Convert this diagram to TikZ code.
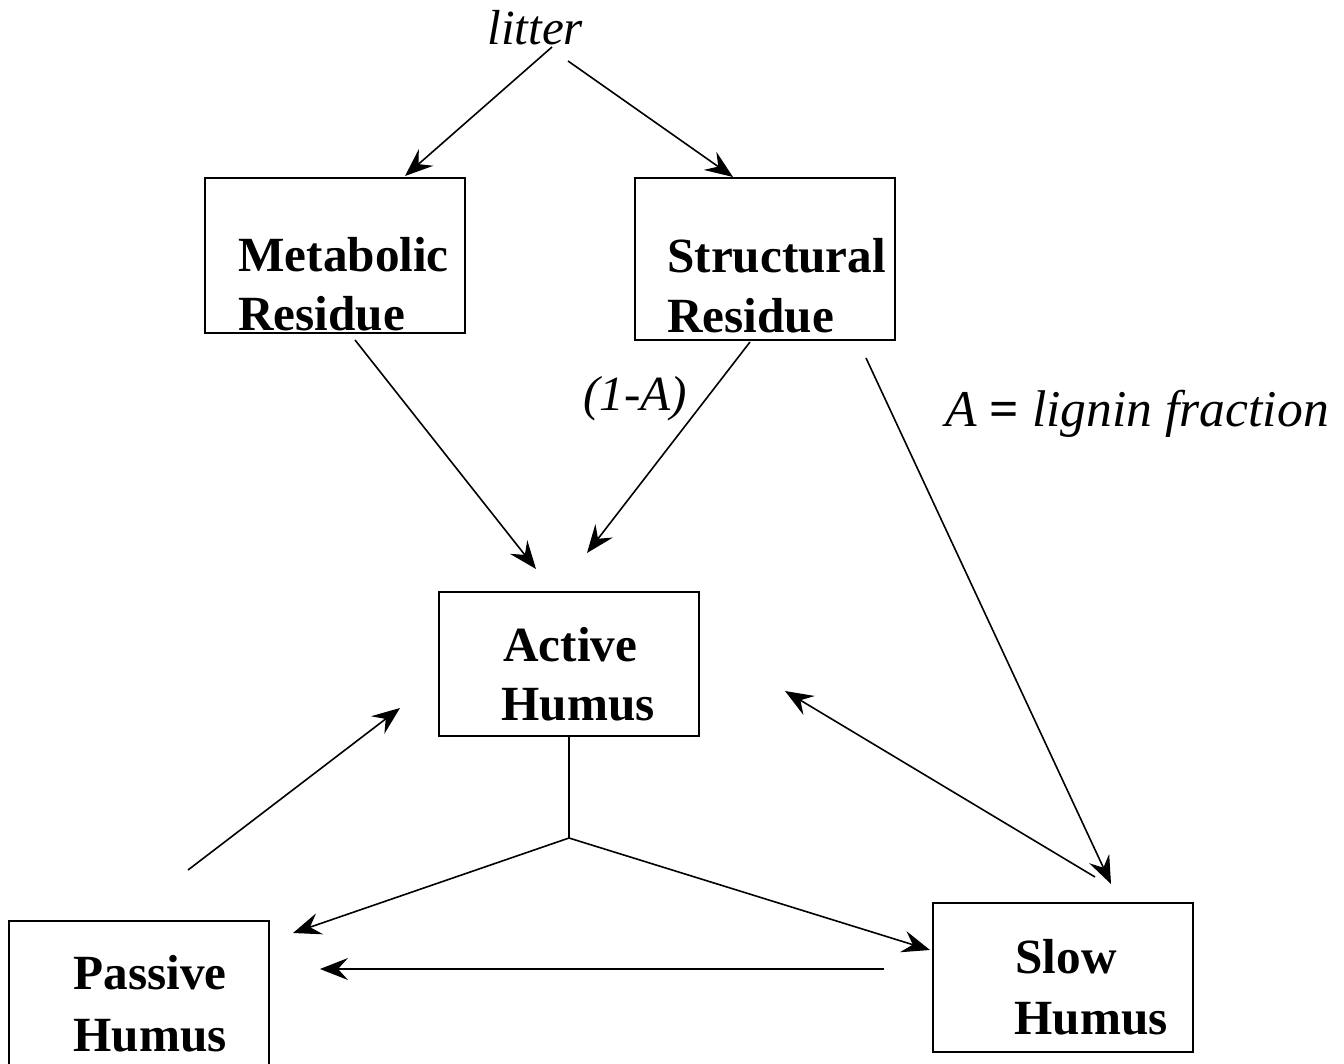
\documentclass[tikz,border=0pt]{standalone}
\usepackage{fontspec}
\setmainfont{Liberation Serif}
\usetikzlibrary{arrows.meta}
\begin{document}
\begin{tikzpicture}[x=0.5pt,y=-0.5pt,
  pool/.style={draw,line width=1pt,inner sep=0pt,minimum width=130pt},
  lbl/.style={inner sep=0pt,anchor=base west,font=\fontsize{24.6}{29}\selectfont\bfseries},
  note/.style={inner sep=0pt,anchor=base west,font=\fontsize{24.6}{29}\selectfont\itshape},
  flow/.style={line width=0.8pt,-{Stealth[length=14pt,width=11pt,inset=5pt,line width=0.6pt]}},
  plain/.style={line width=0.8pt}]
\useasboundingbox (0,0) rectangle (1344,1064);
\clip (0,0) rectangle (1344,1064);

% compartments
\node[pool,minimum height=77.5pt] (met) at (335,255.5) {};
\node[pool,minimum height=81pt] (str) at (765,259) {};
\node[pool,minimum height=72pt] (act) at (569,664) {};
\node[pool,minimum height=80pt] (pas) at (139,1001) {};
\node[pool,minimum height=74.5pt] (slo) at (1063,977.5) {};

% compartment labels
\node[lbl] (met1) at (238,272) {Metabolic};
\node[lbl] (met2) at (238,330) {Residue};
\node[lbl] (str1) at (667,273) {Structural};
\node[lbl] (str2) at (667,332) {Residue};
\node[lbl] (act1) at (503,661) {Active};
\node[lbl] (act2) at (501,720) {Humus};
\node[lbl] (pas1) at (73,989) {Passive};
\node[lbl] (pas2) at (73,1051) {Humus};
\node[lbl] (slo1) at (1015,973) {Slow};
\node[lbl] (slo2) at (1014,1034) {Humus};

% annotations
\node[note] (litter) at (487,45) {litter};
\node[note] (frac) at (583,410) {(1-A)};
\node[note,font=\fontsize{25.8}{29}\selectfont\itshape] (def) at (945,426) {A {\upshape\bfseries =} lignin fraction};

% connector end points
\coordinate (l1) at (552,47);
\coordinate (l2) at (568,61);
\coordinate (metT) at (405,176);
\coordinate (strT) at (733,177);
\coordinate (metB) at (355,340);
\coordinate (actA) at (536,569);
\coordinate (strB) at (750,342);
\coordinate (actB) at (587,553);
\coordinate (strC) at (866,358);
\coordinate (sloT) at (1111,884);
\coordinate (pasA) at (188,870);
\coordinate (actL) at (400,708);
\coordinate (sloA) at (1095,877);
\coordinate (actR) at (785,691);
\coordinate (actD) at (569,736);
\coordinate (fork) at (569,838);
\coordinate (pasT) at (293,933);
\coordinate (sloL) at (930,950);
\coordinate (sloH) at (884,969);
\coordinate (pasR) at (320,969);

% flows
\draw[flow] (l1) -- (metT);
\draw[flow] (l2) -- (strT);
\draw[flow] (metB) -- (actA);
\draw[flow] (strB) -- (actB);
\draw[flow] (strC) -- (sloT);
\draw[flow] (pasA) -- (actL);
\draw[flow] (sloA) -- (actR);
\draw[plain] (actD) -- (fork);
\draw[flow] (fork) -- (pasT);
\draw[flow] (fork) -- (sloL);
\draw[flow] (sloH) -- (pasR);
\end{tikzpicture}
\end{document}
